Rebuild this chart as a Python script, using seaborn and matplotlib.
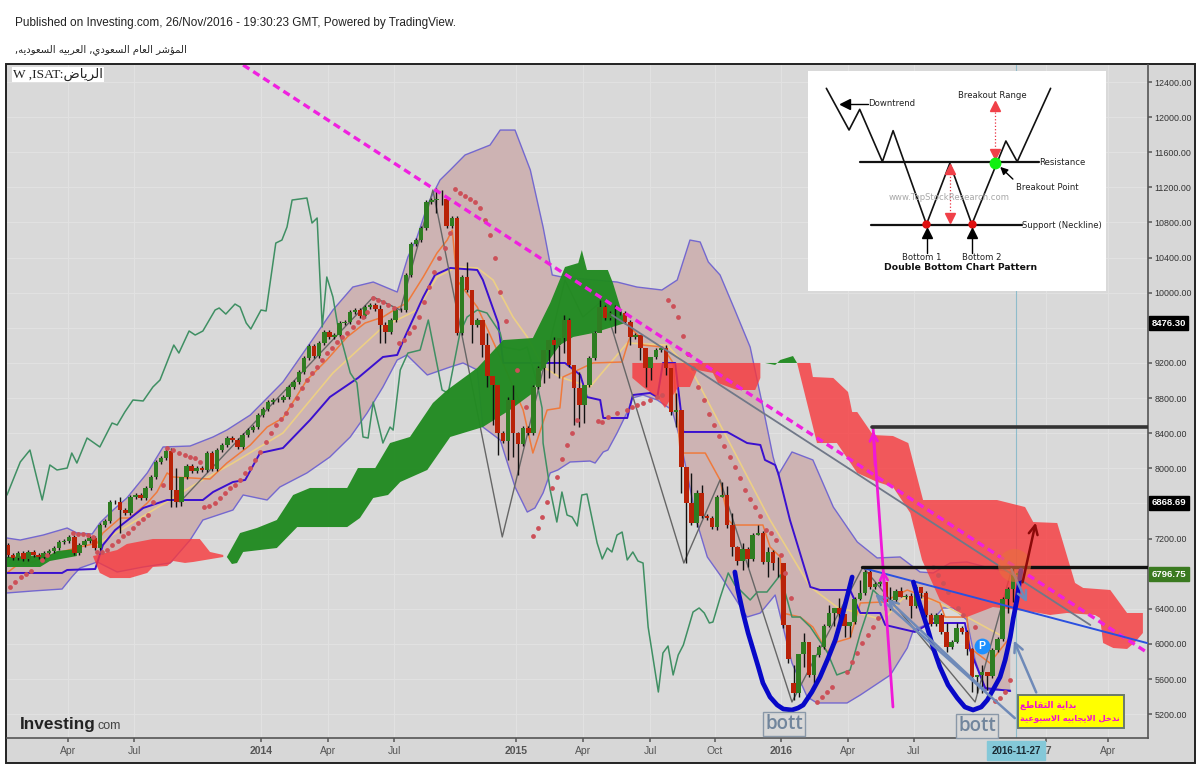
import numpy as np
import seaborn as sns
import matplotlib
matplotlib.use("Agg")
import matplotlib.pyplot as plt
from matplotlib.patches import Rectangle

sns.set_theme(style="darkgrid")
plt.rcParams['font.family'] = ['Liberation Sans', 'DejaVu Sans']

# weekly closes, one per week from the left edge
closes = [7013, 6979, 7035, 6967, 7047, 7013, 6990, 7035, 7058, 7092, 7161, 7172, 7218, 7035, 7126, 7172, 7206, 7092, 7354, 7400,
          7616, 7616, 7525, 7491, 7673, 7696, 7662, 7776, 7901, 8072, 8117, 8197, 7753, 7616, 7901, 8026, 7969, 8003, 7981, 8174,
          7992, 8208, 8265, 8345, 8322, 8243, 8379, 8436, 8470, 8607, 8676, 8755, 8778, 8778, 8812, 8926, 8983, 9097, 9256, 9393,
          9279, 9427, 9553, 9496, 9518, 9655, 9666, 9780, 9803, 9735, 9837, 9860, 9815, 9632, 9553, 9689, 9803, 9803, 10202, 10555,
          10600, 10737, 11033, 11056, 11067, 11067, 10760, 10851, 9541, 10179, 10031, 9632, 9689, 9404, 9051, 8949, 8402, 8311, 8778, 8402,
          8277, 8459, 8402, 8926, 9142, 9347, 9461, 9404, 9484, 9689, 9177, 8915, 8721, 8949, 9256, 9541, 9837, 9712, 9769, 9769,
          9769, 9666, 9496, 9518, 9370, 9142, 9268, 9347, 9370, 9142, 8641, 8664, 8015, 7605, 7377, 7719, 7457, 7434, 7331, 7673,
          7696, 7354, 7104, 6944, 7081, 6967, 7240, 7263, 6933, 7047, 6921, 6921, 6215, 5828, 5441, 5885, 6022, 5646, 5874, 5965,
          6204, 6352, 6409, 6341, 6204, 6249, 6511, 6580, 6819, 6648, 6682, 6705, 6477, 6500, 6603, 6534, 6546, 6432, 6648, 6580,
          6329, 6227, 6329, 6136, 5965, 6022, 6181, 6136, 5942, 5623, 5646, 5680, 5634, 5931, 6056, 6511, 6625, 6785, 6808]
first_open = 7126
gap_opens = {154: 5555}
wick_pad = 25
wick_weeks = [22, 32, 33, 34, 73, 74, 84, 85, 90, 91, 93, 94, 95, 96, 98, 99, 100, 105, 106, 107, 108, 109, 111, 112, 113, 116, 119, 122, 124, 125,
              126, 129, 130, 131, 132, 133, 134, 135, 136, 139, 140, 141, 142, 143, 144, 145, 147, 149, 150, 151, 152, 153, 154, 155, 156, 157, 158,
              161, 162, 163, 164, 165, 167, 172, 173, 175, 177, 179, 180, 184, 186, 188, 189, 190, 191, 192, 195, 196, 197]
wick_lows = [7263, 7559, 7559, 7571, 9427, 9427, 10908, 10999, 10008, 9427, 9268, 8926, 8493, 8152, 8095, 8129, 7924, 8972, 9029, 9086, 9029, 9313, 8493, 8470, 8516, 9553, 9541, 9404, 9234, 8926,
             9006, 9063, 8607, 8470, 7719, 6921, 7354, 7331, 7434, 7297, 7673, 7320, 7001, 6899, 6842, 6876, 7240, 6762, 6842, 6762, 6181, 5782, 5361, 5395, 5737, 5623, 5555,
             6192, 6204, 6272, 6079, 6079, 6500, 6386, 6386, 6534, 6295, 6523, 6306, 5908, 6010, 5874, 5452, 5441, 5441, 5475, 6033, 6352, 6477]
wick_highs = [7673, 8231, 8003, 7901, 9860, 9666, 11193, 11170, 10350, 10031, 9689, 9541, 9051, 8949, 8812, 8949, 8413, 9347, 9439, 9496, 9404, 9746, 9177, 9097, 8949, 9917, 9860, 9689, 9496, 9370,
              9268, 9404, 9097, 8858, 8664, 8003, 7947, 7753, 7810, 7696, 7844, 7798, 7491, 7115, 7149, 7104, 7354, 7104, 7069, 6990, 6899, 6215, 5760, 5874, 6124, 5931, 5874,
              6443, 6409, 6523, 6284, 6249, 6728, 6694, 6648, 6648, 6580, 6648, 6603, 6238, 6238, 6158, 5953, 5646, 5760, 5680, 6534, 6648, 6876]

upper_band = [(-0.2, 7206), (2.4, 7183), (6.9, 7240), (11.6, 7320), (13.5, 7263), (16.5, 7252), (18, 7377), (20.6, 7525), (23.3, 7662), (27.3, 7947), (30.4, 8243),
              (35.7, 8254), (40.2, 8357), (42.9, 8436), (47.5, 8607), (53.9, 8983), (60.6, 9541), (63.7, 9803), (67.6, 10065), (71.6, 10122), (76.3, 10008),
              (78.4, 10407), (80.2, 10635), (82.4, 11022), (84.7, 11284), (86.7, 11398), (89.6, 11569), (94.5, 11682), (96.5, 11853), (99.4, 11853), (102.4, 11398),
              (104.9, 10749), (106.7, 10202), (108.6, 10179), (119.4, 10122), (123.3, 10065), (128.2, 10031), (131.2, 10145), (133.7, 10600), (135.7, 10578),
              (137.3, 10350), (139.6, 10202), (142.5, 9803), (145.5, 9381), (148, 8698), (150, 8129), (151, 7924), (153.7, 8186), (157.8, 8095), (161.8, 7559),
              (166.5, 7161), (170.4, 6979), (174.9, 6990), (178.8, 6819), (181.4, 6808), (184.7, 6921), (188, 6933), (192.5, 6864), (196.5, 6819)]
lower_band = [(-0.2, 6580), (4.9, 6603), (10.6, 6625), (12.5, 6762), (14.1, 6864), (17.5, 6933), (21.4, 6819), (26.5, 6876), (31.8, 6922), (35.7, 7183), (38.2, 7411),
              (44.1, 7525), (46.1, 7696), (50.8, 7639), (53.3, 7787), (58.6, 7947), (63.1, 8129), (67.1, 8357), (70.4, 8630), (73.5, 8926), (76.3, 9234), (78.2, 9291),
              (82.2, 9063), (86.7, 9154), (89.2, 9200), (92, 9120), (93.1, 8470), (96.5, 8322), (99.4, 7787), (101.8, 7502), (103.3, 7548), (104.9, 7719), (106.3, 7947), (107.8, 7981),
              (110.2, 8072), (114.1, 8083), (115.1, 8060), (116.7, 8186), (117.6, 8208), (119.4, 8402), (121.6, 8664), (122.4, 8801), (124.5, 8835), (127.3, 8778), (130.2, 8664),
              (131.8, 8322), (135.1, 7377), (137.1, 6990), (139.6, 6785),
              (144.9, 6306), (147.5, 6352), (150.4, 6557), (153.7, 5782), (156.7, 5395), (158.6, 5327), (164.5, 5327), (167.1, 5418), (173, 5646), (176.3, 5954),
              (177.5, 6158), (180.8, 6238), (183.3, 6409), (185.3, 6409), (188, 6272), (189.6, 5817), (191.6, 5475), (196.5, 5475)]
kijun = [(-0.2, 6808), (10.6, 6808), (11.6, 6842), (17.1, 6853), (18.6, 7126), (21, 7297), (26.5, 7548), (31.2, 7639), (38.2, 7639), (40.2, 7730), (44.1, 7844), (46.5, 7867),
         (49.4, 8174), (53.9, 8231), (59.2, 8550), (63.1, 8812), (68.6, 9029), (73.5, 9268), (76.3, 9291), (77.8, 9496), (81.4, 9951), (83.7, 10202), (86.7, 10282),
         (92, 10259), (93.1, 10145), (96.1, 9655), (97.1, 9200), (109.2, 9200), (112.2, 9063), (113.5, 8812), (116.1, 8778), (116.7, 8573), (121.4, 8573), (122.5, 8835),
         (125.9, 8858), (127.3, 8812), (128.4, 9200), (130.8, 9200), (132.4, 8414), (141, 8414), (144.9, 8288), (147.5, 8266), (148.4, 8095), (150.4, 8038), (151, 7947),
         (153.3, 7411), (157.3, 6648), (159.2, 6614), (165.1, 6614), (167.1, 6352), (171, 6352), (172, 6215), (177.8, 6136), (180.8, 6238), (187.6, 6238), (188.6, 5931),
         (191.6, 5497), (196.5, 5463)]
tenkan = [(-0.2, 6808), (1.8, 6899), (4.9, 6933), (9.6, 7035), (14.1, 7104), (17.5, 7149), (18.6, 7263), (22, 7434), (23.9, 7434), (27.3, 7605), (29.2, 7730), (31.2, 7947),
          (32.4, 7901), (39.6, 7878), (42.9, 8060), (47.5, 8265), (50.8, 8470), (53.9, 8573), (58.6, 9006), (62.5, 9234), (66.5, 9496), (70, 9655), (73.5, 9723), (76.3, 9826),
          (78.2, 9883), (81.4, 10179), (84.1, 10452), (86.1, 10600), (87.1, 10714), (88, 10145), (92, 9837), (96.5, 9268), (101, 8664), (102.9, 8174), (105.7, 8664), (108.2, 8687),
          (108.8, 9040), (114.7, 9200), (120.4, 9211), (121.6, 9439), (122.5, 9575), (123.5, 9518), (124.5, 9404), (128.4, 9381), (130.4, 9200), (131.8, 8174), (136.7, 8174),
          (139.6, 7867), (141.2, 7411), (142.2, 7354), (148, 7354), (149.4, 7104), (151.4, 6990), (151.8, 6352), (155.3, 6306), (157.8, 6192), (160.6, 5908), (162.5, 6022),
          (165.1, 6067), (167.1, 6466), (171.6, 6477), (176.3, 6614), (181.4, 6500), (182.7, 6466), (183.7, 6306), (188, 6306), (188.6, 5953), (192.5, 5782), (194.5, 5931), (196.5, 6079)]
sma = [(16.7, 7104), (37.1, 7833), (44.1, 8060), (53.9, 8402), (63.7, 9086), (73.5, 9610), (80.2, 9803), (84.1, 10179), (88, 10293), (92, 10282), (95.1, 10145), (99, 9723),
       (101.8, 9496), (104.9, 9154), (108.2, 9040), (114.1, 8926), (121.4, 9427), (129.2, 9404), (134.3, 9086), (149.4, 7411), (157.3, 6648), (162.5, 6420), (171.6, 6272),
       (175.5, 6523), (181.4, 6500), (188, 6306), (194.5, 6101)]
chikou = [(-0.2, 7696), (2.4, 8072), (4.3, 8208), (6.7, 7639), (8.2, 8038), (9.6, 7981), (11.6, 8003), (12.5, 8174), (13.5, 8060), (15.5, 8345), (18, 8243), (20.4, 8516),
          (21.4, 8493), (22.9, 8641), (24.5, 8778), (26.5, 8767), (28.4, 8926), (29.8, 9006), (32.5, 9404), (33.5, 9313), (35.5, 9564), (36.7, 9518), (38.2, 9564), (40.6, 9803),
          (41.4, 9826), (42.7, 9757), (44.5, 9871), (45.5, 9837), (46.7, 9655), (47.6, 9587), (49.6, 9803), (50.6, 9792), (52.5, 10566), (53.7, 10600), (54.7, 10749), (55.7, 11056),
          (58.6, 11079), (59.6, 10794),
          (60.6, 10851), (61.6, 9610), (62.5, 10179), (63.7, 9951), (64.7, 9610), (67.1, 9086), (68.4, 8972), (69.6, 8357), (70.6, 8345), (71.6, 8755), (73.5, 8288), (74.9, 8470),
          (75.5, 8436), (76.9, 9120), (78.4, 9313), (80.8, 9347), (82.4, 9689), (85.1, 8892), (86.3, 8858), (88.6, 9541), (90, 9723), (92, 9803), (93.9, 9769), (96.5, 9541),
          (97.1, 9381), (100.4, 9347), (101.8, 9381), (103.7, 8972), (104.7, 8687), (104.9, 8288), (106.3, 7753), (107.6, 7388), (108.6, 7730), (109.6, 7468), (110.6, 7445),
          (111.6, 7343), (112.5, 7696), (113.5, 7707), (115.5, 7149), (116.5, 6967), (117.5, 7092), (118.4, 7047), (119.4, 7240), (120.4, 7274), (121.4, 6956), (122.5, 7047),
          (123.5, 6944), (124.5, 6921), (125.5, 6192), (127.5, 5452), (128.4, 5896), (129.4, 5976), (130.4, 5646), (131.4, 5874), (132.4, 5987), (134.3, 6363), (135.5, 6409),
          (136.5, 6352), (137.5, 6238), (138.2, 6249), (139.6, 6523), (141.2, 6808), (142.5, 6671), (145.5, 6500), (146.9, 6591), (148.8, 6591), (151.4, 6785), (153.7, 6306), (155.3, 6306),
          (157.3, 6192), (160.6, 5908), (162.5, 5646), (165.1, 5703), (167.1, 6124), (168.4, 6352), (169.6, 6614), (171.6, 6500)]
zigzag = [(33.7, 7616), (47.5, 8470), (71.6, 9951), (76.9, 9803), (83.3, 11170), (96.9, 7218), (109.2, 10145), (112.7, 9723), (116.7, 9917), (132.5, 6921), (139.6, 7867),
          (153.7, 5338), (167.6, 6876), (189.6, 5338), (196.9, 6876)]
sar = [(0.4, 6648), (1.4, 6705), (2.5, 6762), (3.5, 6796), (4.5, 6830), (6.7, 6956), (7.6, 7013), (12.7, 7263), (13.7, 7252), (14.7, 7252), (15.7, 7240), (16.7, 7218), (17.5, 7047),
       (18.4, 7047), (19.4, 7069), (20.4, 7126), (21.6, 7172), (22.5, 7229), (23.5, 7263), (24.5, 7320), (25.5, 7377), (26.5, 7423), (27.5, 7468), (28.4, 7616), (30.4, 7810),
       (31.2, 8231), (32.4, 8208), (33.5, 8174), (34.7, 8152), (35.7, 8129), (36.7, 8117), (37.6, 8072), (38.4, 7559), (39.4, 7571), (40.6, 7605), (41.6, 7662), (42.5, 7719),
       (43.5, 7776), (44.5, 7810), (45.5, 7867), (46.5, 7947), (47.5, 8003), (48.4, 8095), (49.4, 8186), (50.6, 8300), (51.6, 8402), (52.5, 8493), (53.5, 8562), (54.5, 8630),
       (55.5, 8721), (56.7, 8801), (57.6, 8915), (58.6, 9006), (59.6, 9086), (60.6, 9154), (61.6, 9234), (62.5, 9313), (63.5, 9370), (64.5, 9439), (65.5, 9496), (66.5, 9541),
       (67.6, 9610), (68.6, 9666), (69.6, 9723), (70.4, 9780), (71.6, 9940), (72.5, 9917), (73.5, 9894), (74.5, 9860), (75.7, 9826), (76.7, 9427), (77.6, 9461), (78.6, 9541),
       (79.6, 9610), (80.6, 9723), (81.6, 9894), (82.5, 10065), (83.5, 10236), (84.5, 10395), (85.7, 10509), (86.7, 10680), (87.6, 11181), (88.6, 11136), (89.6, 11102),
       (90.6, 11067), (91.6, 11033), (92.5, 10965), (93.5, 10828), (94.5, 10657), (95.5, 10395), (96.5, 10008), (97.6, 9678), (99.8, 9120), (101.6, 8698), (102.9, 7229),
       (103.9, 7320), (104.7, 7445), (105.7, 7616), (106.7, 7776), (107.6, 7901), (108.6, 8106), (109.6, 8266), (110.6, 8402), (111.6, 8550), (115.7, 8538), (116.5, 8527), (117.6, 8584), (119.4, 8630), (121.4, 8664), (122.4, 8698),
       (123.3, 8721), (124.5, 8744), (125.9, 8778), (127.3, 8812), (128.2, 8835), (129.4, 9917), (130.4, 9849), (131.4, 9723), (132.4, 9507), (133.3, 9302), (134.3, 9143),
       (135.3, 8926), (136.5, 8778), (137.5, 8619), (138.4, 8493), (139.4, 8368), (140.4, 8254), (141.6, 8129), (142.5, 8015), (143.5, 7890), (144.5, 7753), (145.5, 7650),
       (146.5, 7559), (147.5, 7457), (148.6, 7297), (149.6, 7263), (150.6, 7183), (151.6, 7013), (152.4, 6808), (153.5, 6523), (158.6, 5338), (159.6, 5395), (160.6, 5452),
       (161.6, 5509), (164.5, 5680), (165.5, 5794), (166.5, 5897), (167.5, 6010), (168.6, 6101), (169.6, 6192), (170.6, 6295), (181.4, 6876), (182.4, 6785), (183.3, 6694),
       (184.3, 6591), (186.3, 6409), (187.3, 6329), (189.6, 6192), (193.5, 5350), (194.5, 5384), (195.5, 5452), (196.5, 5589)]

green_clouds = [
    ([(-0.2, 6990), (8.2, 7013), (9.6, 7058), (13.5, 7081)], [(-0.2, 6876), (6.3, 6876), (8.2, 6944), (13.5, 7001)]),
    ([(42.9, 6990), (45.5, 7263), (48.8, 7320), (52.7, 7411), (55.9, 7696), (59.2, 7776), (66.5, 7776), (68.6, 8003), (72, 8003), (74.9, 8288), (78.8, 8357), (83.3, 8744),
      (86.1, 8892), (92, 9143), (97.1, 9461), (102.9, 9484), (106.3, 9883), (109.2, 10293), (111.8, 10338), (112.5, 10486), (113.5, 10259), (117.6, 10259), (118.6, 10111),
      (120.4, 9769), (121, 9655)],
     [(42.9, 6990), (43.9, 6910), (44.9, 6921), (46.1, 7047), (52.7, 7092), (56.7, 7331), (66.5, 7331), (69, 7434), (71.6, 7662), (74.5, 7696), (76.9, 7844), (82.2, 7981),
      (86.7, 8357), (93.1, 8470), (98.4, 8664), (102.9, 8858), (104.3, 9086), (108.2, 9404), (110.8, 9496), (114.7, 9541), (121, 9655)]),
    ([(147.5, 9029), (148.4, 9200), (150.4, 9177), (151.4, 9234), (153.9, 9279), (154.7, 9200)], [(147.5, 9029), (148.4, 9200), (154.7, 9200)]),
]
red_clouds = [
    ([(16.7, 7001), (21.4, 7069), (23.3, 7138), (28.4, 7195), (37.6, 7195), (39.6, 7047), (42.2, 7013)],
     [(16.7, 6990), (18, 6808), (20, 6750), (23.9, 6750), (27.3, 6808), (28.4, 6876), (31.2, 6887), (32.4, 6944), (34.7, 6922), (36.3, 6933), (42.2, 6990)]),
    ([(122.4, 9200), (147.5, 9200)],
     [(122.4, 9029), (124.5, 8926), (127.3, 8812), (128.8, 8687), (131.4, 8926), (133.7, 8926), (135.1, 9120), (138.2, 9086), (139.2, 8972), (142.9, 8892), (146.5, 8892), (147.5, 9029)]),
    ([(154.7, 9200), (157.3, 9200), (157.8, 9040), (161.8, 9029), (164.7, 8869), (165.5, 8641), (166.5, 8641), (169.6, 8379), (173.5, 8368), (176.5, 8288), (179.4, 7639),
      (193.9, 7639), (199.4, 7559), (201, 7388), (205.7, 7377), (206.7, 7183), (209.2, 6694), (210.8, 6637), (216.1, 6614), (219.4, 6352), (222.5, 6352)],
     [(154.7, 9200), (158.6, 8288), (162.5, 8288), (166.5, 7947), (170.4, 7844), (173.5, 7787), (176.9, 7491), (179.2, 6956), (182.7, 6500), (188, 6306), (193.1, 6420), (201, 6363),
      (204.3, 6329), (207.6, 6352), (213.1, 6329), (214.1, 6295), (214.7, 6010), (216.7, 5953), (219.4, 5942), (221, 6022), (222.5, 6124)]),
]

bottom_1 = [(142.5, 6819), (143.1, 6614), (144.1, 6352), (145.1, 6124), (146.1, 5931), (147.1, 5737), (148, 5555), (149.4, 5395), (150.8, 5304), (152, 5258), (153.7, 5247), (154.9, 5270),
            (155.9, 5304), (157.6, 5452), (159.2, 5623), (160.8, 5840), (162.2, 6045), (163.5, 6306), (164.5, 6534), (165.5, 6762)]
bottom_2 = [(177.5, 6705), (178.8, 6443), (180.2, 6192), (181.4, 5953), (182.7, 5737), (184.3, 5532), (186.1, 5384), (187.6, 5281), (189.2, 5247), (190.8, 5281), (192, 5361),
            (193.1, 5475), (194.5, 5623), (195.5, 5817), (196.5, 6079), (197.1, 6295), (197.8, 6500), (198.6, 6842)]
trend_dashed = [(46.1, 12594), (223.5, 5896)]
trend_gray = [(118.4, 9746), (212.2, 6215)]
trend_blue = [(167.6, 6865), (223.3, 6010)]
magenta_line = [(169.6, 8459), (173.5, 5281)]
level_upper = [(169.4, 8470), (223.5, 8470)]
level_lower = [(167.5, 6876), (223.5, 6876)]
gray_arrows = [((197.8, 5133), (169.6, 6591)), ((192, 5441), (172, 6534)), ((201.8, 5418), (197, 6067)), ((196.5, 6876), (200, 6443))]
target_arrow = ((198.8, 6671), (201.6, 7411))
current_week = 197.6

y_ticks = [12400, 12000, 11600, 11200, 10800, 10400, 10000, 9200, 8800, 8400, 8000, 7200, 6400, 6000, 5600, 5200]
y_grid = y_ticks + [9600, 7600, 6800]
x_ticks = [11.8, 24.7, 49.6, 62.7, 75.7, 99.6, 112.7, 125.9, 138.6, 151.6, 164.7, 177.6, 203.6, 215.7]
x_labels = ['Apr', 'Jul', '2014', 'Apr', 'Jul', '2015', 'Apr', 'Jul', 'Oct', '2016', 'Apr', 'Jul', '17', 'Apr']
price_tags = [(9655, '8476.30', 'black'), (7605, '6868.69', 'black'), (6796, '6796.75', '#3a7a20')]

# double bottom picture, in its own units
pattern_path = [(80, 70), (148, 195), (180, 133), (248, 290), (280, 197), (380, 478), (450, 295), (516, 478), (618, 228), (652, 290), (752, 70)]
pattern_lines = [[(182, 291), (717, 291)], [(215, 480), (665, 480)]]


def unzip(pairs):
    return [p[0] for p in pairs], [p[1] for p in pairs]


# matplotlib does no arabic shaping, so pick the presentation forms here
DUAL = {'ب': 0xFE8F, 'ت': 0xFE95, 'ج': 0xFE9D, 'خ': 0xFEA5, 'س': 0xFEB1, 'ش': 0xFEB5, 'ض': 0xFEBD, 'ط': 0xFEC1, 'ع': 0xFEC9,
        'ق': 0xFED5, 'ل': 0xFEDD, 'م': 0xFEE1, 'ن': 0xFEE5, 'ه': 0xFEE9, 'ي': 0xFEF1}
RIGHT = {'ا': 0xFE8D, 'ة': 0xFE93, 'د': 0xFEA9, 'ر': 0xFEAD, 'و': 0xFEED, 'ؤ': 0xFE85}


def shape_ar(text):
    out = []
    prev_joins = False
    i = 0
    while i < len(text):
        c = text[i]
        next_c = text[i + 1] if i + 1 < len(text) else ''
        if c == 'ل' and next_c == 'ا':
            out.append('\ufefc' if prev_joins else '\ufefb')
            prev_joins = False
            i += 2
            continue
        if c in RIGHT:
            out.append(chr(RIGHT[c] + (1 if prev_joins else 0)))
            prev_joins = False
        elif c in DUAL:
            next_ar = next_c in DUAL or next_c in RIGHT
            if next_c == '':
                next_ar = False
            if prev_joins and next_ar:
                k = 3
            elif prev_joins:
                k = 1
            elif next_ar:
                k = 2
            else:
                k = 0
            out.append(chr(DUAL[c] + k))
            prev_joins = next_ar
        else:
            out.append(c)
            prev_joins = False
        i += 1
    return ''.join(reversed(out))


W, H = 1200, 773
fig = plt.figure(figsize=(12, 7.73), dpi=100, facecolor='white')
fig.add_artist(Rectangle((6 / W, 1 - 763 / H), 1189 / W, 699 / H, transform=fig.transFigure,
                         facecolor='#d7d7d7', edgecolor='#222222', linewidth=1.4, zorder=-5))
ax = fig.add_axes([7 / W, 1 - 738 / H, 1141 / W, 673 / H], facecolor='#d9d9d9')
ax.set_xlim(-0.2, 223.5)
ax.set_ylim(4928, 12594)


def line(pairs, color, lw, z, **kw):
    xs, ys = unzip(pairs)
    sns.lineplot(x=xs, y=ys, color=color, linewidth=lw, sort=False, estimator=None, ax=ax, zorder=z, **kw)


# band fill and its edges
up_w, up_p = unzip(upper_band)
lo_w, lo_p = unzip(lower_band)
ax.fill(up_w + lo_w[::-1], up_p + lo_p[::-1], color='#cdb3b3', linewidth=0, zorder=1)
line(upper_band, '#7468cf', 1.0, 2)
line(lower_band, '#7468cf', 1.0, 2)
line(sma, '#eccf85', 1.2, 2)
line(tenkan, '#ef7a3c', 1.1, 2)
line(kijun, '#3a10cf', 1.4, 2)
line(chikou, '#3f8f63', 1.1, 2)
line(zigzag, '#666666', 1.0, 2)

# kumo
for top, bot in green_clouds:
    tw, tp = unzip(top)
    bw, bp = unzip(bot)
    ax.fill(tw + bw[::-1], tp + bp[::-1], color='#228b22', alpha=0.97, linewidth=0, zorder=3)
for top, bot in red_clouds:
    tw, tp = unzip(top)
    bw, bp = unzip(bot)
    ax.fill(tw + bw[::-1], tp + bp[::-1], color='#f8383c', alpha=0.8, linewidth=0, zorder=3)

# candles
weeks = np.arange(len(closes))
opens = np.array([first_open] + closes[:-1], dtype=float)
for k, v in gap_opens.items():
    opens[k] = v
closes_arr = np.array(closes, dtype=float)
lows = np.minimum(opens, closes_arr) - wick_pad
highs = np.maximum(opens, closes_arr) + wick_pad
lows[wick_weeks] = wick_lows
highs[wick_weeks] = wick_highs
up = closes_arr >= opens
ax.vlines(weeks, lows, highs, color='#111111', linewidth=1.0, zorder=4)
ax.bar(weeks[up], (closes_arr - opens)[up], bottom=opens[up], width=0.88, color='#2f7d22', linewidth=0, zorder=5)
ax.bar(weeks[~up], (opens - closes_arr)[~up], bottom=closes_arr[~up], width=0.88, color='#b92208', linewidth=0, zorder=5)

sar_w, sar_p = unzip(sar)
sns.scatterplot(x=sar_w, y=sar_p, color='#cc5058', s=12, linewidth=0, ax=ax, zorder=6)

# drawings
ax.axvline(current_week, color='#8fbccb', linewidth=0.8, zorder=2)
line(trend_dashed, '#f020e0', 2.4, 7, linestyle=(0, (2.2, 1.4)))
line(trend_gray, '#707888', 1.3, 7)
line(trend_blue, '#2a50e0', 1.4, 7)
line(magenta_line, '#f018d8', 2.0, 7)
line(level_upper, '#333333', 2.6, 7)
line(level_lower, '#111111', 2.4, 7)
line(bottom_1, '#0808c8', 3.4, 8)
line(bottom_2, '#0808c8', 3.4, 8)
for tail, head in gray_arrows:
    ax.annotate('', xy=head, xytext=tail, zorder=8,
                arrowprops=dict(arrowstyle='->', color='#6f8ab8', lw=1.8, mutation_scale=16))
ax.annotate('', xy=target_arrow[1], xytext=target_arrow[0], zorder=9,
            arrowprops=dict(arrowstyle='->', color='#8c0a0a', lw=1.8, mutation_scale=16))
ax.annotate('', xy=magenta_line[0], xytext=(170, 8000), zorder=8,
            arrowprops=dict(arrowstyle='->', color='#f018d8', lw=1.8, mutation_scale=14))
ax.annotate('', xy=(171.6, 6876), xytext=(172, 6400), zorder=8,
            arrowprops=dict(arrowstyle='->', color='#f018d8', lw=1.8, mutation_scale=14))
sns.scatterplot(x=[197.3], y=[6899], color='#e8703a', s=560, alpha=0.6, linewidth=0, ax=ax, zorder=8)
sns.scatterplot(x=[191.0], y=[5975], color='#1e90ff', s=130, linewidth=0, ax=ax, zorder=9)
ax.text(191.0, 5975, 'P', color='white', fontsize=7.5, fontweight='bold', ha='center', va='center', zorder=10)

for cx, cy in [(152.2, 5088), (190.0, 5065)]:
    ax.text(cx, cy, 'bott', color='#71859c', fontsize=13.5, fontweight='semibold', family='Open Sans', ha='center', va='center', zorder=9,
            bbox=dict(facecolor='#d8d8d8', edgecolor='#8a98a8', linewidth=1.0, boxstyle='square,pad=0.12'))

ax.add_patch(Rectangle((198, 5042), 20.8, 376, facecolor='#ffff00', edgecolor='#6a7a6a', linewidth=1.4, zorder=9))
ax.text(198.5, 5304, shape_ar('بداية التقاطع'), color='#f010d0', fontsize=6.3, fontweight='bold', family='DejaVu Sans', va='center', zorder=10)
ax.text(198.5, 5156, shape_ar('ندخل الايجابيه الاسبوعية'), color='#f010d0', fontsize=6.0, fontweight='bold', family='DejaVu Sans', va='center', zorder=10)

# axes and ticks
ax.yaxis.tick_right()
ax.set_yticks(y_ticks)
ax.set_yticklabels(['%.2f' % v for v in y_ticks], fontsize=6.4, color='#333333')
ax.set_xticks(x_ticks)
ax.set_xticklabels(x_labels, fontsize=7.5, color='#555555')
for lab in ax.get_xticklabels():
    if lab.get_text() in ('2014', '2015', '2016', '17'):
        lab.set_fontweight('bold')
ax.tick_params(axis='x', length=3, color='#666666', pad=3, bottom=True)
ax.tick_params(axis='y', length=3, color='#666666', pad=1.5, right=True)
ax.grid(False)
for v in y_grid:
    ax.axhline(v, color='#e2e2e2', linewidth=0.7, zorder=0)
for v in x_ticks:
    ax.axvline(v, color='#e2e2e2', linewidth=0.7, zorder=0)
for name, sp in ax.spines.items():
    sp.set_visible(name in ('right', 'bottom'))
    sp.set_color('#555555')
    sp.set_linewidth(1.2)

for py, txt, col in price_tags:
    ax.annotate(txt, xy=(1.0, py), xycoords=('axes fraction', 'data'), xytext=(2.5, 0), textcoords='offset points',
                color='white', fontsize=6.8, fontweight='bold', va='center', ha='left', annotation_clip=False, zorder=20,
                bbox=dict(facecolor=col, edgecolor=col, boxstyle='square,pad=0.26'))
ax.annotate('2016-11-27', xy=(current_week, 0), xycoords=('data', 'axes fraction'), xytext=(0, -9), textcoords='offset points',
            color='#1a2a33', fontsize=7, fontweight='bold', ha='center', va='center', annotation_clip=False, zorder=20,
            bbox=dict(facecolor='#84c8d8', edgecolor='#84c8d8', boxstyle='square,pad=0.45'))

# logo
fig.text(20 / W, 1 - 729 / H, 'Investing', fontsize=12.4, fontweight='bold', color='#222222', zorder=30)
fig.text(98 / W, 1 - 729 / H, 'com', fontsize=9, color='#444444', zorder=30)
fig.text(15 / W, 1 - 26 / H, 'Published on Investing.com, 26/Nov/2016 - 19:30:23 GMT, Powered by TradingView.', fontsize=8.5, color='#222222')
fig.text(15 / W, 1 - 52 / H, shape_ar('المؤشر العام السعودي, العربيه السعوديه,'), fontsize=7.2, color='#222222', family='DejaVu Sans')
fig.text(13 / W, 1 - 78 / H, 'W ,ISAT:' + shape_ar('الرياض'), fontsize=9.6, color='#222222', zorder=30,
         family=['Liberation Serif', 'DejaVu Sans'], bbox=dict(facecolor='white', edgecolor='none', pad=0.8))

# double bottom inset
ins = fig.add_axes([808 / W, 1 - 291 / H, 298 / W, 220 / H], facecolor='white', zorder=40)
ins.set_xlim(25, 918)
ins.set_ylim(678, 18)
ins.set_xticks([])
ins.set_yticks([])
ins.grid(False)
for sp in ins.spines.values():
    sp.set_visible(False)
pw, pp = unzip(pattern_path)
sns.lineplot(x=pw, y=pp, color='#111111', linewidth=1.2, sort=False, estimator=None, ax=ins)
for seg in pattern_lines:
    sw, sp_ = unzip(seg)
    sns.lineplot(x=sw, y=sp_, color='#111111', linewidth=1.6, estimator=None, sort=False, ax=ins)
for x0, y0, y1 in [(585, 140, 255), (450, 325, 440)]:
    ins.plot([x0, x0], [y0, y1], color='#e83040', linewidth=0.9, linestyle=':')
ins.plot([585, 450], [122, 312], linestyle='none', marker='^', color='#f04048', markersize=7)
ins.plot([585, 450], [268, 460], linestyle='none', marker='v', color='#f04048', markersize=7)
ins.plot([380, 516], [478, 478], linestyle='none', marker='o', color='#e01010', markersize=5)
ins.plot([585], [295], linestyle='none', marker='o', color='#10f010', markersize=7.5)
for x0 in (382, 517):
    ins.plot([x0, x0], [520, 565], color='black', linewidth=1.0)
    ins.plot([x0], [503], linestyle='none', marker='^', color='black', markersize=7)
ins.plot([135, 205], [116, 116], color='black', linewidth=1.0)
ins.plot([135], [116], linestyle='none', marker='<', color='black', markersize=7)
ins.annotate('', xy=(595, 300), xytext=(645, 348), arrowprops=dict(arrowstyle='-|>', color='black', lw=1.0, mutation_scale=11))
fs = 6.1
txt = dict(fontsize=fs, color='#222222', family='DejaVu Sans', va='center')
ins.text(205, 116, 'Downtrend', **txt)
ins.text(475, 92, 'Breakout Range', **txt)
ins.text(718, 293, 'Resistance', **txt)
ins.text(647, 367, 'Breakout Point', **txt)
ins.text(667, 480, 'Support (Neckline)', **txt)
ins.text(308, 576, 'Bottom 1', **txt)
ins.text(486, 576, 'Bottom 2', **txt)
ins.text(268, 397, 'www.TopStockResearch.com', fontsize=fs, color='#a8a8a8', family='DejaVu Sans', va='center')
ins.text(481, 609, 'Double Bottom Chart Pattern', fontsize=6.7, fontweight='bold', color='#111111', family='DejaVu Sans', ha='center', va='center')

fig.savefig('out.png', dpi=100, facecolor='white')
